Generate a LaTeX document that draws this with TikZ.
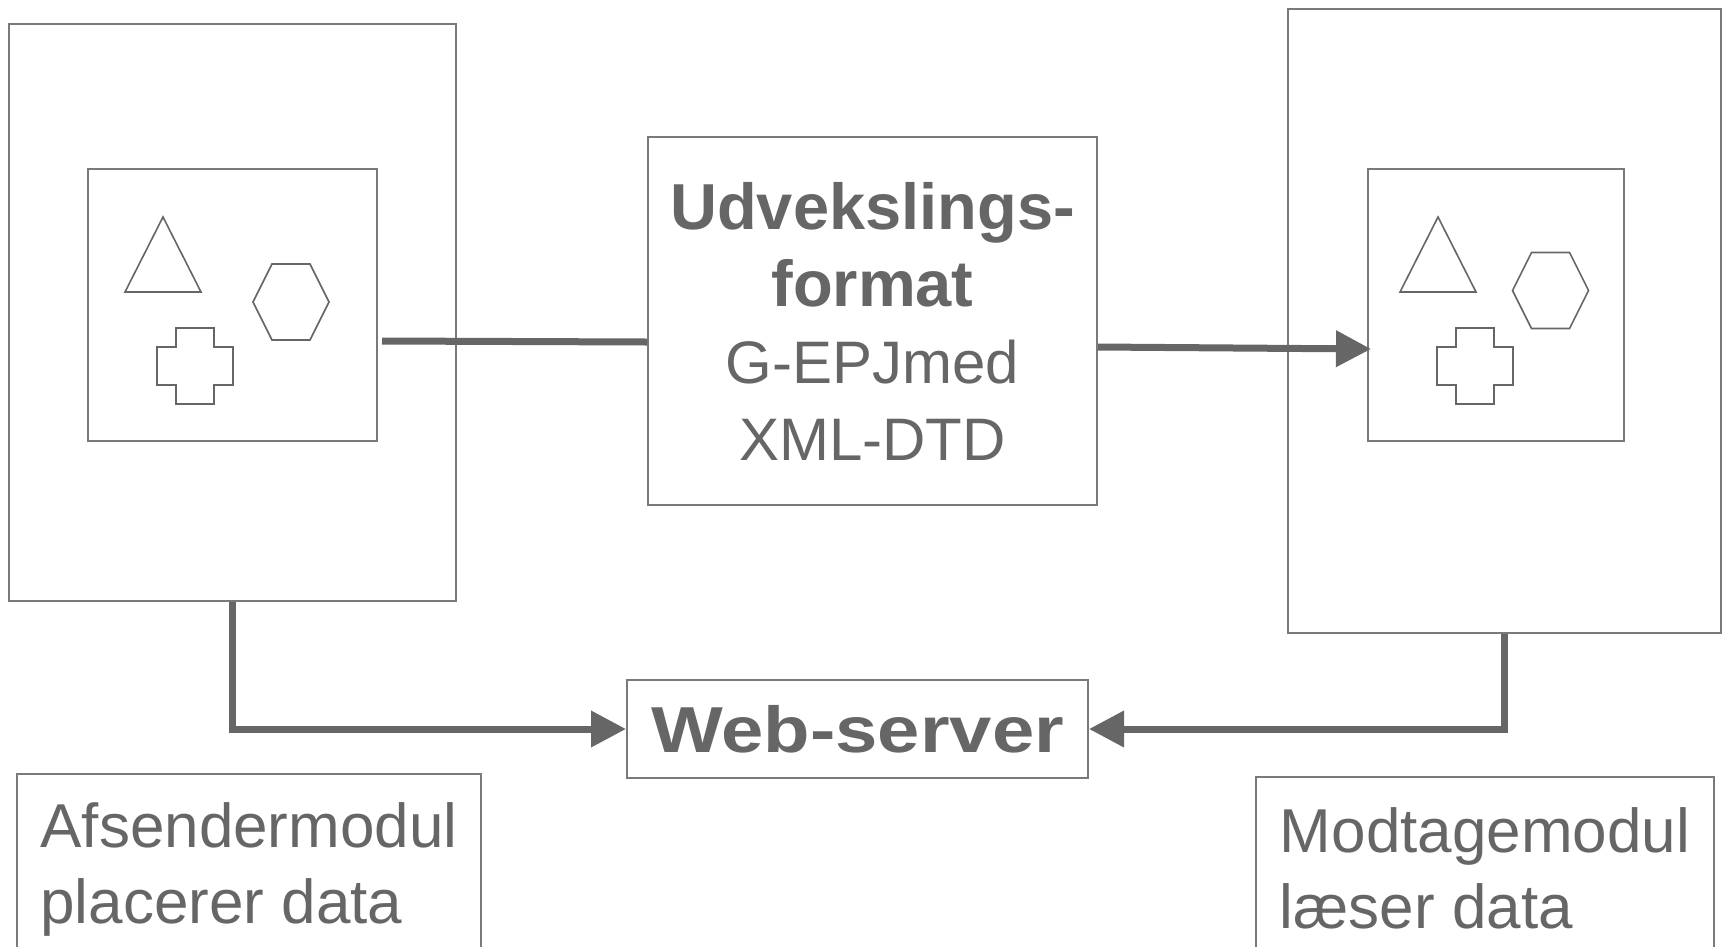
\documentclass[tikz,border=0pt]{standalone}
\usepackage{fontspec}
\setmainfont{Liberation Sans}
\newfontfamily\webfont[FakeStretch=1.17]{Liberation Sans Bold}
\usetikzlibrary{arrows.meta}
\definecolor{ink}{HTML}{666666}
\definecolor{rim}{HTML}{7A7A7A}
\begin{document}
\begin{tikzpicture}[x=1pt, y=-1pt,
  box/.style={draw=rim, line width=2pt, inner sep=0pt, text=ink},
  link/.style={draw=ink, line width=7pt},
  tip/.style={-{Triangle[length=35pt, width=35pt]}},
  figure/.style={draw=ink, line width=1.6pt, line join=miter}]
\useasboundingbox (0,0) rectangle (1728,946);
\node (sender) at (232.5,312.5) [box, minimum width=447pt, minimum height=577pt]{};
\node (innerL) at (232.5,305) [box, minimum width=289pt, minimum height=272pt]{};
\node (receiver) at (1504.5,321) [box, minimum width=433pt, minimum height=624pt]{};
\node (innerR) at (1496,305) [box, minimum width=256pt, minimum height=272pt]{};
\node (format) at (872.5,321) [box, minimum width=449pt, minimum height=368pt, align=center, font=\fontsize{60}{77}\selectfont]
  {{\fontsize{65}{77}\selectfont\bfseries Udvekslings-}\\{\fontsize{65}{77}\selectfont\bfseries format}\\G-EPJmed\\XML-DTD};
\node (web) at (857.5,729) [box, minimum width=461pt, minimum height=98pt, font=\webfont\fontsize{65}{77}\selectfont]{Web-server};
\node (sendtext) at (249,773) [box, anchor=north, minimum width=464pt, inner ysep=29pt, align=left, font=\fontsize{62}{76}\selectfont]
  {Afsendermodul\\placerer data};
\node (recvtext) at (1485,776) [box, anchor=north, minimum width=458pt, inner ysep=31pt, align=left, font=\fontsize{62}{76}\selectfont]
  {Modtagemodul\\l\ae ser data};
\foreach \tx/\hx/\hy/\cx in {163/291/302/195, 1438/1550.5/290.5/1475} {
  \draw[figure] (\tx,217) -- (\tx+38,292) -- (\tx-38,292) -- cycle;
  \draw[figure] (\hx-38,\hy) -- (\hx-19,\hy-38) -- (\hx+19,\hy-38) -- (\hx+38,\hy) -- (\hx+19,\hy+38) -- (\hx-19,\hy+38) -- cycle;
  \draw[figure] (\cx-19,328) -- ++(38,0) -- ++(0,19) -- ++(19,0) -- ++(0,38) -- ++(-19,0) -- ++(0,19) -- ++(-38,0) -- ++(0,-19) -- ++(-19,0) -- ++(0,-38) -- ++(19,0) -- cycle;
}
\draw[link] ([shift={(4,36)}]innerL.east) -- ([shift={(0,21)}]format.west);
\draw[link, tip] ([shift={(0,26)}]format.east) -- ([shift={(4,44)}]innerR.west);
\draw[link, tip] (sender.south) |- (web.west);
\draw[link, tip] (receiver.south) |- (web.east);
\end{tikzpicture}
\end{document}
